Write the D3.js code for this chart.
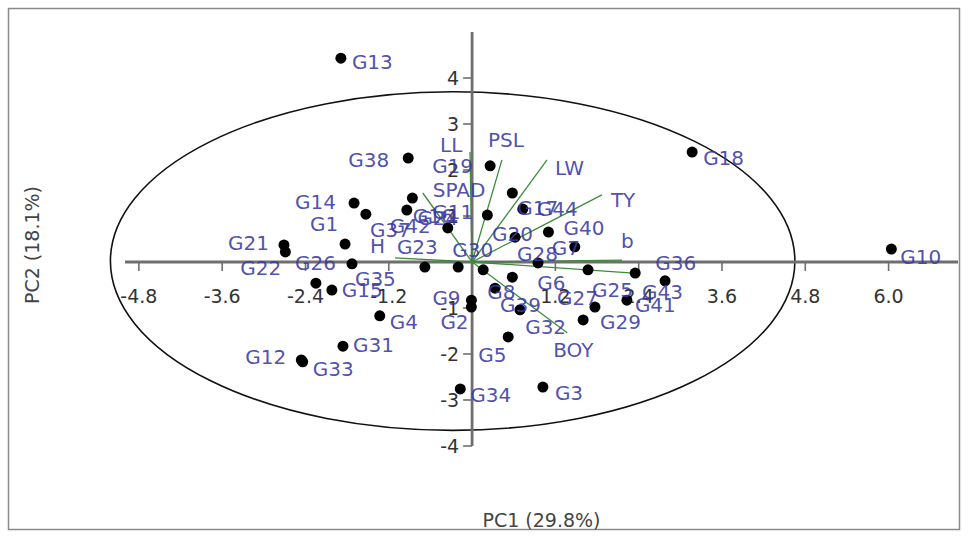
<!DOCTYPE html>
<html>
<head>
<meta charset="utf-8">
<script src="https://cdn.jsdelivr.net/npm/d3@7"></script>
<style>
  html, body { margin: 0; padding: 0; background: #fff; }
  svg text { font-family: "DejaVu Sans", sans-serif; }
</style>
</head>
<body>
<div id="chart"></div>
<script>
// genotype scores (PC1, PC2)
const genotypes = ["G13","G18","G10","G38","G19","G14","G37","G24","G42","G1",
  "G21","G22","G26","G35","G15","G4","G31","G12","G33","G23",
  "G30","G11","G16","G17","G44","G20","G40","G7","G28","G8",
  "G6","G39","G27","G9","G2","G5","G34","G3","G25","G36",
  "G43","G41","G29","G32"];
const pc1 = [-1.89, 3.17, 6.04, -0.92, 0.26, -1.70, -1.53, -0.86, -0.94, -1.83,
  -2.71, -2.69, -1.73, -2.25, -2.02, -1.33, -1.86, -2.46, -2.44, -0.68,
  -0.20, 0.22, -0.35, 0.58, 0.73, 0.62, 1.10, 1.48, 0.95, 0.16,
  0.58, 0.33, 0.69, -0.01, -0.01, 0.52, -0.17, 1.02, 1.67, 2.35,
  2.78, 2.23, 1.77, 1.60];
const pc2 = [4.43, 2.39, 0.28, 2.26, 2.09, 1.28, 1.04, 1.39, 1.13, 0.39,
  0.37, 0.22, -0.04, -0.46, -0.61, -1.17, -1.83, -2.13, -2.17, -0.11,
  -0.11, 1.02, 0.74, 1.50, 1.15, 0.54, 0.65, 0.33, -0.02, -0.17,
  -0.33, -0.57, -1.04, -0.83, -0.98, -1.63, -2.76, -2.72, -0.17, -0.24,
  -0.41, -0.83, -0.98, -1.26];

// trait loadings (vector tips)
const traits = ["LL","PSL","LW","TY","SPAD","H","b","","BOY"];
const load1 = [-0.03, 0.43, 1.08, 1.87, -0.71, -1.11, 2.16, 2.32, 1.37];
const load2 = [2.39, 2.22, 2.22, 1.46, 1.50, 0.09, 0.04, -0.24, -1.54];

const xTicks = [-4.8, -3.6, -2.4, -1.2, 0, 1.2, 2.4, 3.6, 4.8, 6.0];
const yTicks = [-4, -3, -2, -1, 0, 1, 2, 3, 4];

// 95% ellipse
const ellCx = -0.28, ellCy = 0.02, ellRx = 4.93, ellRy = 3.68;

// label placement (px from the dot / vector tip: text start, text middle)
const labelOffset = {
  G13:[11,4], G18:[11,6], G10:[9,8], G38:[-60,2], G19:[-58,0], G14:[-59,-1],
  G37:[4,16], G24:[5,20], G42:[-17,16], G1:[-35,-20], G21:[-56,-2], G22:[-45,16],
  G26:[-57,-1], G35:[39,-4], G15:[10,0], G4:[10,6], G31:[10,-1], G12:[-56,-3],
  G33:[10,7], G23:[-28,-20], G30:[-6,-17], G11:[-55,-3], G16:[-35,-12], G17:[5,15],
  G44:[14,0], G20:[-23,-3], G40:[15,-4], G7:[-23,1], G28:[-21,-9], G8:[4,22],
  G6:[25,6], G39:[5,17], G27:[37,-12], G9:[-39,-2], G2:[-31,15], G5:[-30,18],
  G34:[10,6], G3:[12,6], G25:[4,20], G36:[20,-10], G43:[-23,11], G41:[8,5],
  G29:[5,15], G32:[-58,7]
};
const traitOffset = {
  LL:[-30,-7], PSL:[-14,-20], LW:[8,8], TY:[9,5], SPAD:[10,-3], H:[-25,-12],
  b:[-1,-19], BOY:[-14,17]
};

const W = 968, H = 538;
const svg = d3.select("#chart").append("svg")
  .attr("width", W).attr("height", H);

svg.append("rect").attr("x", 8.5).attr("y", 8.5)
  .attr("width", 951).attr("height", 521)
  .attr("fill", "#fff").attr("stroke", "#8a8a8a").attr("stroke-width", 1.5);

const x = d3.scaleLinear().domain([-5, 7]).range([125, 958]);
const y = d3.scaleLinear().domain([-4, 5]).range([446, 32]);

// ellipse
svg.append("ellipse")
  .attr("cx", x(ellCx)).attr("cy", y(ellCy))
  .attr("rx", x(ellRx) - x(0)).attr("ry", y(0) - y(ellRy))
  .attr("fill", "none").attr("stroke", "#111").attr("stroke-width", 1.6);

const axisColor = "#6f6f6f";

// horizontal axis
svg.append("line")
  .attr("x1", x(-5)).attr("x2", x(7)).attr("y1", y(0)).attr("y2", y(0))
  .attr("stroke", axisColor).attr("stroke-width", 2.8);
svg.selectAll(".xt").data(xTicks).enter().append("line")
  .attr("x1", d => x(d)).attr("x2", d => x(d))
  .attr("y1", y(0)).attr("y2", y(0) + 9)
  .attr("stroke", axisColor).attr("stroke-width", 1.6);
svg.selectAll(".xl").data(xTicks.filter(d => d !== 0)).enter().append("text")
  .attr("x", d => x(d)).attr("y", y(0) + 41)
  .attr("text-anchor", "middle").attr("font-size", 19).attr("fill", "#333")
  .text(d => d3.format(".1f")(d).replace("−", "-"));

// vertical axis
svg.append("line")
  .attr("x1", x(0)).attr("x2", x(0)).attr("y1", y(-4)).attr("y2", y(5))
  .attr("stroke", axisColor).attr("stroke-width", 2.8);
svg.selectAll(".yt").data(yTicks).enter().append("line")
  .attr("x1", x(0) - 9).attr("x2", x(0))
  .attr("y1", d => y(d)).attr("y2", d => y(d))
  .attr("stroke", axisColor).attr("stroke-width", 1.6);
svg.selectAll(".yl").data(yTicks.filter(d => d !== 0)).enter().append("text")
  .attr("x", x(0) - 13).attr("y", d => y(d) + 7)
  .attr("text-anchor", "end").attr("font-size", 19).attr("fill", "#333")
  .text(d => String(d));

// trait vectors
const vec = traits.map((t, i) => ({ name: t, a: load1[i], b: load2[i] }));
svg.selectAll(".vec").data(vec).enter().append("line")
  .attr("x1", x(0)).attr("y1", y(0))
  .attr("x2", d => x(d.a)).attr("y2", d => y(d.b))
  .attr("stroke", "#3d8b3d").attr("stroke-width", 1.3);

// genotype points
const pts = genotypes.map((g, i) => ({ name: g, a: pc1[i], b: pc2[i] }));
svg.selectAll(".pt").data(pts).enter().append("circle")
  .attr("cx", d => x(d.a)).attr("cy", d => y(d.b)).attr("r", 5.5)
  .attr("fill", "#000");

const labelColor = "#3a3aa6";
svg.selectAll(".pl").data(pts).enter().append("text")
  .attr("x", d => x(d.a) + (labelOffset[d.name] || [8, 4])[0])
  .attr("y", d => y(d.b) + (labelOffset[d.name] || [8, 4])[1] + 7)
  .attr("font-size", 20).attr("fill", labelColor).attr("fill-opacity", 0.9)
  .text(d => d.name);

svg.selectAll(".vl").data(vec.filter(d => d.name)).enter().append("text")
  .attr("x", d => x(d.a) + traitOffset[d.name][0])
  .attr("y", d => y(d.b) + traitOffset[d.name][1] + 7)
  .attr("font-size", 20).attr("fill", labelColor).attr("fill-opacity", 0.9)
  .text(d => d.name);

// axis titles
svg.append("text")
  .attr("x", (x(-5) + x(7)) / 2).attr("y", 527)
  .attr("text-anchor", "middle").attr("font-size", 19).attr("fill", "#444")
  .text("PC1 (29.8%)");
svg.append("text")
  .attr("transform", "translate(39," + 245 + ") rotate(-90)")
  .attr("text-anchor", "middle").attr("font-size", 19).attr("fill", "#444")
  .text("PC2 (18.1%)");
</script>
</body>
</html>
